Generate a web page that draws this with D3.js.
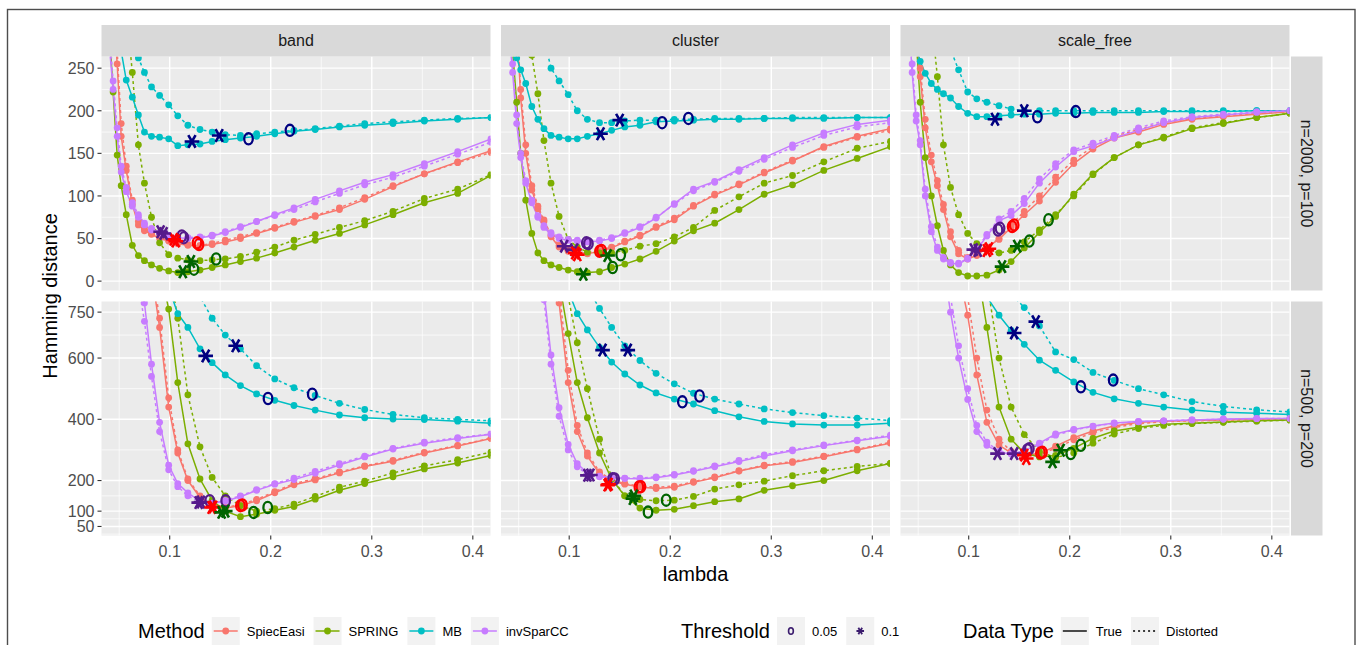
<!DOCTYPE html>
<html>
<head>
<meta charset="utf-8">
<script src="https://cdn.jsdelivr.net/npm/d3@7"></script>
<style>
body { margin: 0; background: #fff; }
svg { display: block; font-family: "Liberation Sans", Arial, sans-serif; }
</style>
</head>
<body>
<svg id="chart" width="1360" height="645"></svg>
<script>

// lambda path (shared by every curve)
var lambda = [0.040, 0.044, 0.048, 0.052, 0.057, 0.063, 0.069, 0.075, 0.082, 0.090, 0.099, 0.108, 0.118,
	0.130, 0.142, 0.155, 0.170, 0.186, 0.204, 0.223, 0.244, 0.268, 0.293, 0.321, 0.352, 0.385, 0.418];

var methods = ["SpiecEasi", "SPRING", "MB", "invSparCC"];
var structures = ["band", "cluster", "scale_free"];
var settings = ["n=2000, p=100", "n=500, p=200"];
var thresholds = ["0.05", "0.1"];
var dataTypes = ["True", "Distorted"];
var xBreaks = [0.1, 0.2, 0.3, 0.4];
var yBreaksTop = [0, 50, 100, 150, 200, 250];
var yBreaksBottom = [50, 100, 200, 400, 600, 750];

// Hamming distance, rows = SpiecEasi, SPRING, MB, invSparCC
var band2000True = [
	[420, 330, 255, 170, 130, 90, 66, 59, 55, 50, 47, 44, 42, 41, 43, 46, 50, 56, 62, 69, 76, 84, 96, 111, 126, 140, 153],
	[300, 222, 148, 112, 78, 42, 30, 24, 19, 15, 12, 10, 11, 13, 16, 19, 23, 27, 33, 40, 48, 56, 66, 78, 92, 103, 124],
	[380, 340, 300, 270, 236, 216, 195, 175, 170, 169, 167, 159, 160, 161, 164, 166, 168, 170, 173, 176, 178, 181, 183, 185, 188, 190, 192],
	[280, 225, 170, 128, 105, 88, 75, 66, 60, 56, 53, 51, 50, 51, 53, 57, 63, 70, 78, 86, 96, 106, 116, 125, 138, 152, 167]
];
var band2000Dist = [
	[440, 350, 270, 185, 135, 95, 70, 61, 56, 52, 48, 45, 43, 42, 44, 48, 52, 57, 63, 70, 77, 86, 98, 112, 126, 139, 151],
	[600, 520, 450, 380, 320, 245, 160, 115, 75, 45, 31, 27, 25, 24, 25, 26, 29, 34, 40, 48, 55, 63, 71, 82, 97, 108, 125],
	[500, 460, 420, 380, 340, 300, 262, 245, 228, 218, 207, 194, 183, 178, 175, 172, 171, 173, 175, 177, 179, 182, 185, 187, 189, 191, 192],
	[300, 235, 180, 135, 110, 92, 78, 68, 62, 57, 54, 52, 51, 52, 54, 58, 64, 70, 77, 84, 93, 103, 113, 122, 135, 149, 163]
];
var cluster2000True = [
	[420, 360, 300, 215, 150, 107, 85, 70, 52, 40, 35, 32, 32, 35, 39, 46, 53, 63, 72, 88, 101, 113, 127, 141, 158, 170, 179],
	[330, 270, 210, 150, 95, 56, 33, 24, 19, 16, 13, 11, 10, 11, 16, 20, 26, 35, 47, 59, 68, 84, 102, 113, 130, 144, 158],
	[330, 290, 262, 248, 232, 205, 190, 179, 171, 169, 167, 167, 170, 173, 177, 181, 183, 187, 188, 189, 190, 190, 191, 191, 191, 192, 192],
	[300, 245, 185, 145, 115, 92, 75, 63, 55, 50, 48, 47, 46, 47, 50, 56, 63, 74, 91, 108, 117, 131, 145, 160, 174, 184, 189]
];
var cluster2000Dist = [
	[440, 380, 310, 225, 160, 112, 88, 72, 54, 42, 36, 33, 33, 36, 40, 47, 54, 64, 74, 89, 102, 114, 128, 142, 157, 169, 177],
	[600, 520, 450, 390, 330, 265, 220, 165, 115, 76, 49, 40, 34, 33, 33, 36, 41, 44, 52, 63, 83, 99, 115, 124, 140, 156, 164],
	[560, 520, 480, 440, 400, 360, 320, 285, 250, 235, 219, 200, 190, 186, 186, 188, 189, 189, 190, 190, 191, 191, 191, 192, 192, 192, 192],
	[310, 255, 195, 150, 118, 95, 77, 65, 57, 52, 49, 48, 47, 48, 51, 57, 64, 75, 90, 106, 116, 129, 143, 157, 171, 181, 186]
];
var sf2000True = [
	[420, 350, 290, 240, 180, 140, 112, 84, 52, 32, 26, 30, 40, 49, 63, 78, 94, 116, 138, 155, 168, 175, 184, 190, 193, 196, 199],
	[400, 330, 285, 210, 145, 100, 65, 36, 19, 10, 6, 6, 7, 13, 23, 39, 57, 76, 102, 126, 145, 160, 168, 179, 185, 192, 197],
	[330, 300, 275, 258, 244, 232, 225, 220, 215, 205, 197, 193, 193, 194, 195, 196, 196, 197, 197, 198, 198, 198, 199, 199, 199, 200, 200],
	[320, 245, 188, 160, 100, 58, 36, 26, 21, 20, 26, 37, 53, 71, 77, 91, 115, 134, 152, 159, 168, 177, 186, 192, 195, 198, 200]
];
var sf2000Dist = [
	[430, 360, 300, 250, 190, 148, 118, 90, 58, 36, 28, 31, 40, 50, 66, 82, 100, 122, 142, 158, 170, 178, 186, 191, 194, 197, 199],
	[700, 600, 520, 450, 380, 310, 240, 160, 110, 78, 56, 44, 37, 33, 36, 46, 60, 78, 100, 125, 145, 160, 169, 180, 186, 192, 197],
	[480, 440, 410, 380, 350, 330, 310, 290, 272, 248, 222, 214, 210, 206, 202, 200, 200, 200, 200, 200, 200, 200, 200, 200, 200, 200, 200],
	[330, 255, 195, 165, 108, 64, 40, 28, 22, 21, 27, 38, 55, 73, 82, 97, 120, 138, 154, 162, 171, 180, 188, 193, 196, 199, 200]
];
var band500True = [
	[1300, 1250, 1200, 1150, 1100, 1050, 1000, 950, 880, 700, 440, 290, 200, 145, 115, 110, 118, 134, 160, 186, 202, 225, 246, 263, 290, 313, 337],
	[1400, 1350, 1300, 1250, 1200, 1150, 1100, 1050, 1000, 900, 760, 520, 320, 205, 135, 100, 82, 90, 103, 115, 139, 168, 190, 212, 238, 257, 282],
	[1500, 1450, 1400, 1350, 1300, 1250, 1200, 1150, 1050, 950, 830, 745, 700, 630, 585, 545, 510, 483, 462, 445, 430, 414, 405, 401, 399, 394, 387],
	[1200, 1150, 1100, 1050, 1000, 940, 860, 780, 580, 390, 250, 190, 160, 133, 126, 133, 147, 168, 188, 203, 224, 251, 277, 303, 322, 337, 351]
];
var band500Dist = [
	[1320, 1270, 1220, 1170, 1120, 1070, 1020, 970, 900, 730, 470, 300, 205, 150, 118, 112, 121, 138, 164, 190, 206, 228, 248, 266, 292, 315, 338],
	[1500, 1450, 1400, 1350, 1300, 1250, 1200, 1150, 1100, 1000, 900, 730, 480, 310, 210, 150, 118, 100, 108, 123, 148, 178, 198, 225, 248, 268, 293],
	[1800, 1750, 1700, 1650, 1600, 1500, 1400, 1300, 1200, 1100, 1000, 920, 860, 800, 730, 675, 630, 575, 532, 503, 478, 452, 432, 416, 405, 400, 395],
	[1180, 1130, 1080, 1030, 980, 920, 840, 720, 540, 360, 235, 180, 150, 130, 125, 135, 150, 170, 190, 208, 230, 255, 280, 305, 325, 340, 352]
];
var cluster500True = [
	[1400, 1350, 1300, 1250, 1200, 1150, 1100, 1050, 950, 780, 520, 360, 280, 222, 198, 188, 179, 174, 178, 194, 209, 231, 248, 259, 278, 300, 322],
	[1500, 1450, 1400, 1350, 1300, 1250, 1200, 1100, 1000, 850, 680, 520, 405, 290, 205, 150, 110, 103, 106, 118, 131, 140, 168, 183, 200, 232, 256],
	[1500, 1400, 1300, 1250, 1200, 1150, 1100, 1050, 1000, 920, 820, 745, 692, 635, 587, 548, 512, 486, 466, 450, 428, 408, 393, 385, 381, 381, 387],
	[1400, 1350, 1300, 1250, 1150, 1050, 950, 820, 610, 438, 318, 255, 225, 214, 211, 207, 206, 209, 218, 230, 245, 262, 280, 297, 314, 330, 345]
];
var cluster500Dist = [
	[1420, 1370, 1320, 1270, 1220, 1170, 1120, 1070, 980, 820, 560, 380, 290, 228, 202, 190, 182, 178, 182, 196, 212, 232, 250, 262, 280, 302, 325],
	[1600, 1550, 1500, 1450, 1400, 1350, 1300, 1200, 1100, 950, 800, 650, 500, 335, 210, 150, 138, 134, 136, 148, 172, 186, 198, 216, 232, 246, 256],
	[1700, 1650, 1600, 1550, 1500, 1450, 1400, 1350, 1250, 1150, 1000, 900, 830, 762, 700, 640, 592, 550, 516, 485, 466, 450, 434, 422, 412, 404, 396],
	[1380, 1330, 1280, 1230, 1130, 1030, 930, 790, 580, 410, 300, 245, 220, 212, 210, 208, 208, 212, 220, 232, 248, 266, 284, 300, 316, 332, 348]
];
var sf500True = [
	[1500, 1450, 1400, 1350, 1300, 1250, 1200, 1100, 1000, 880, 740, 545, 390, 316, 290, 283, 288, 312, 340, 362, 378, 390, 394, 396, 398, 400, 402],
	[1700, 1650, 1600, 1550, 1500, 1450, 1400, 1300, 1200, 1100, 1000, 900, 700, 440, 335, 290, 277, 282, 305, 338, 362, 374, 384, 387, 391, 395, 398],
	[1600, 1550, 1500, 1450, 1400, 1350, 1300, 1250, 1150, 1050, 950, 860, 800, 740, 690, 645, 593, 560, 522, 488, 467, 452, 440, 430, 423, 420, 416],
	[1400, 1350, 1300, 1250, 1200, 1100, 1000, 900, 750, 600, 465, 360, 315, 292, 287, 297, 322, 352, 367, 378, 388, 393, 395, 398, 401, 403, 403]
];
var sf500Dist = [
	[1520, 1470, 1420, 1370, 1320, 1270, 1220, 1120, 1020, 920, 800, 600, 430, 335, 295, 284, 286, 305, 333, 356, 373, 386, 392, 395, 397, 399, 401],
	[1800, 1750, 1700, 1650, 1600, 1550, 1500, 1400, 1300, 1200, 1100, 1000, 850, 600, 440, 350, 295, 275, 290, 322, 352, 370, 380, 386, 390, 394, 397],
	[1800, 1750, 1700, 1650, 1600, 1550, 1500, 1400, 1300, 1200, 1100, 1000, 920, 860, 810, 765, 705, 620, 595, 553, 527, 500, 480, 458, 442, 431, 424],
	[1450, 1400, 1350, 1300, 1250, 1150, 1050, 950, 800, 640, 500, 380, 325, 295, 288, 295, 318, 348, 365, 377, 387, 392, 395, 398, 400, 402, 403]
];

// selected lambdas: [method, threshold (0 = 0.05, 1 = 0.1), lambda, hamming]
var band2000Marks = [[2,1,0.122,164],[2,1,0.149,171],[2,0,0.178,167],[2,0,0.219,177],
	[0,1,0.104,49],[0,1,0.106,47],[0,0,0.127,45],[0,0,0.129,43],
	[1,1,0.113,11],[1,1,0.121,23],[1,0,0.124,14],[1,0,0.146,26],
	[3,1,0.091,58],[3,1,0.094,56],[3,0,0.112,53],[3,0,0.114,51]];
var cluster2000Marks = [[2,1,0.131,173],[2,1,0.150,189],[2,0,0.192,186],[2,0,0.218,191],
	[3,1,0.095,41],[3,1,0.105,37],[3,0,0.117,45],[3,0,0.119,44],
	[0,1,0.106,33],[0,1,0.108,31],[0,0,0.130,35],[0,0,0.132,36],
	[1,1,0.114,8],[1,1,0.138,30],[1,0,0.151,31],[1,0,0.143,16]];
var sf2000Marks = [[2,1,0.126,190],[2,1,0.155,200],[2,0,0.168,193],[2,0,0.206,199],
	[3,1,0.105,37],[3,1,0.109,36],[3,0,0.129,60],[3,0,0.131,62],
	[0,1,0.120,38],[0,1,0.118,36],[0,0,0.143,64],[0,0,0.145,66],
	[1,1,0.133,17],[1,1,0.148,41],[1,0,0.160,47],[1,0,0.179,72]];
var band500Marks = [[2,1,0.1356,607],[2,1,0.1653,640],[2,0,0.1973,468],[2,0,0.2411,482],
	[3,1,0.1287,128],[3,1,0.131,130],[3,0,0.1396,134],[3,0,0.1554,134],
	[0,1,0.1415,112],[0,1,0.143,114],[0,0,0.170,118],[0,0,0.172,120],
	[1,1,0.1514,96],[1,1,0.155,100],[1,0,0.183,96],[1,0,0.197,112]];
var cluster500Marks = [[2,1,0.133,626],[2,1,0.158,626],[2,0,0.212,457],[2,0,0.229,476],
	[3,1,0.118,217],[3,1,0.121,218],[3,0,0.143,206],[3,0,0.145,205],
	[0,1,0.138,185],[0,1,0.139,188],[0,0,0.169,179],[0,0,0.171,180],
	[1,1,0.163,141],[1,1,0.164,150],[1,0,0.178,97],[1,0,0.196,136]];
var sf500Marks = [[2,1,0.145,682],[2,1,0.1664,719],[2,0,0.211,506],[2,0,0.243,528],
	[3,1,0.1285,288],[3,1,0.145,288],[3,0,0.160,304],[3,0,0.158,300],
	[0,1,0.157,272],[0,1,0.155,283],[0,0,0.173,292],[0,0,0.171,290],
	[1,1,0.183,261],[1,1,0.191,299],[1,0,0.201,288],[1,0,0.211,315]];

// panel grid: rows = settings, cols = structures
var panelData = [
	[[band2000True, band2000Dist, band2000Marks], [cluster2000True, cluster2000Dist, cluster2000Marks], [sf2000True, sf2000Dist, sf2000Marks]],
	[[band500True, band500Dist, band500Marks], [cluster500True, cluster500Dist, cluster500Marks], [sf500True, sf500Dist, sf500Marks]]
];


/*
 *	LAYOUT
 */
var lineColors = ["#F8766D", "#7CAE00", "#00BFC4", "#C77CFF"];
var markColors = ["#FF0000", "#006400", "#000080", "#551A8B"];
var dashes = [null, "3,3"];

var colX = [101.5, 501, 900.5],
	rowY = [56.5, 301.5],
	panelW = 389, panelH = 234;
var xDomain = [0.0325, 0.4175];
var yDomains = [[-11, 263.7], [20.5, 784.7]];
var yBreaks = [yBreaksTop, yBreaksBottom];

var svg = d3.select("#chart");
svg.append("rect").attr("width", 1360).attr("height", 645).attr("fill", "#fff");
var defs = svg.append("defs");

// minor breaks the ggplot way: midpoints, with one extra break at each end
function minorBreaks(b, dom){
	var ext = [b[0] - (b[1] - b[0])].concat(b, [b[b.length-1] + (b[b.length-1] - b[b.length-2])]);
	var out = [];
	for (var i = 1; i < ext.length; i++){
		var m = (ext[i-1] + ext[i]) / 2;
		if (m > dom[0] && m < dom[1]) out.push(m);
	}
	return out;
}

var line = d3.line();

settings.forEach(function(setting, r){
	structures.forEach(function(struct, c){
		var x = d3.scaleLinear().domain(xDomain).range([colX[c], colX[c] + panelW]);
		var y = d3.scaleLinear().domain(yDomains[r]).range([rowY[r] + panelH, rowY[r]]);
		var g = svg.append("g");

		// background + grid
		g.append("rect")
			.attr("x", colX[c]).attr("y", rowY[r])
			.attr("width", panelW).attr("height", panelH)
			.attr("fill", "#EBEBEB");
		minorBreaks(xBreaks, xDomain).forEach(function(v){
			g.append("line").attr("x1", x(v)).attr("x2", x(v)).attr("y1", rowY[r]).attr("y2", rowY[r] + panelH)
				.attr("stroke", "#fff").attr("stroke-width", 0.7);
		});
		minorBreaks(yBreaks[r], yDomains[r]).forEach(function(v){
			g.append("line").attr("y1", y(v)).attr("y2", y(v)).attr("x1", colX[c]).attr("x2", colX[c] + panelW)
				.attr("stroke", "#fff").attr("stroke-width", 0.7);
		});
		xBreaks.forEach(function(v){
			g.append("line").attr("x1", x(v)).attr("x2", x(v)).attr("y1", rowY[r]).attr("y2", rowY[r] + panelH)
				.attr("stroke", "#fff").attr("stroke-width", 1.4);
		});
		yBreaks[r].forEach(function(v){
			g.append("line").attr("y1", y(v)).attr("y2", y(v)).attr("x1", colX[c]).attr("x2", colX[c] + panelW)
				.attr("stroke", "#fff").attr("stroke-width", 1.4);
		});

		// clip
		var cid = "clip" + r + c;
		defs.append("clipPath").attr("id", cid).append("rect")
			.attr("x", colX[c]).attr("y", rowY[r]).attr("width", panelW).attr("height", panelH);
		var pg = g.append("g").attr("clip-path", "url(#" + cid + ")");

		var pd = panelData[r][c];
		var series = [];
		methods.forEach(function(m, mi){
			[0, 1].forEach(function(dt){
				series.push({m: mi, dt: dt, vals: pd[dt][mi]});
			});
		});

		// lines
		pg.selectAll("path.curve")
			.data(series).enter()
			.append("path")
				.attr("class", "curve")
				.attr("d", function(d){ return line(lambda.map(function(l, i){ return [x(l), y(d.vals[i])]; })); })
				.attr("fill", "none")
				.attr("stroke", function(d){ return lineColors[d.m]; })
				.attr("stroke-width", 1.5)
				.attr("stroke-dasharray", function(d){ return dashes[d.dt]; });

		// points
		series.forEach(function(s){
			pg.selectAll(null)
				.data(s.vals).enter()
				.append("circle")
					.attr("cx", function(v, i){ return x(lambda[i]); })
					.attr("cy", function(v){ return y(v); })
					.attr("r", 3.4)
					.attr("fill", lineColors[s.m]);
		});

		// threshold marks
		var marks = pd[2];
		pg.selectAll("ellipse.mk")
			.data(marks.filter(function(d){ return d[1] == 0; })).enter()
			.append("ellipse")
				.attr("cx", function(d){ return x(d[2]); })
				.attr("cy", function(d){ return y(d[3]); })
				.attr("rx", 4.3).attr("ry", 5.6)
				.attr("fill", "none")
				.attr("stroke", function(d){ return markColors[d[0]]; })
				.attr("stroke-width", 2.3);
		pg.selectAll("path.star")
			.data(marks.filter(function(d){ return d[1] == 1; })).enter()
			.append("path")
				.attr("class", "star")
				.attr("d", d3.symbol().type(d3.symbolAsterisk).size(150))
				.attr("transform", function(d){ return "translate(" + x(d[2]) + "," + y(d[3]) + ") rotate(90)"; })
				.attr("stroke", function(d){ return markColors[d[0]]; })
				.attr("stroke-width", 2.6);

		// y axis on first column
		if (c == 0){
			yBreaks[r].forEach(function(v){
				svg.append("line").attr("x1", colX[0] - 4).attr("x2", colX[0]).attr("y1", y(v)).attr("y2", y(v))
					.attr("stroke", "#333").attr("stroke-width", 1.1);
				svg.append("text").attr("x", colX[0] - 7).attr("y", y(v)).attr("dy", "0.36em")
					.attr("text-anchor", "end").attr("font-size", 16).attr("fill", "#4D4D4D").text(v);
			});
		}
		// x axis on bottom row
		if (r == 1){
			xBreaks.forEach(function(v){
				svg.append("line").attr("x1", x(v)).attr("x2", x(v)).attr("y1", rowY[1] + panelH).attr("y2", rowY[1] + panelH + 4)
					.attr("stroke", "#333").attr("stroke-width", 1.1);
				svg.append("text").attr("x", x(v)).attr("y", rowY[1] + panelH + 21)
					.attr("text-anchor", "middle").attr("font-size", 16).attr("fill", "#4D4D4D").text(v);
			});
		}
		// top strip
		if (r == 0){
			svg.append("rect").attr("x", colX[c]).attr("y", 25).attr("width", panelW).attr("height", 31.5).attr("fill", "#D9D9D9");
			svg.append("text").attr("x", colX[c] + panelW / 2).attr("y", 40.7).attr("dy", "0.35em")
				.attr("text-anchor", "middle").attr("font-size", 16).attr("fill", "#1A1A1A").text(struct);
		}
		// right strip
		if (c == 2){
			var sx = colX[2] + panelW + 1.5, cy = rowY[r] + panelH / 2;
			svg.append("rect").attr("x", sx).attr("y", rowY[r]).attr("width", 31.5).attr("height", panelH).attr("fill", "#D9D9D9");
			svg.append("text").attr("transform", "translate(" + (sx + 15.75) + "," + cy + ") rotate(90)")
				.attr("dy", "0.35em").attr("text-anchor", "middle").attr("font-size", 16).attr("fill", "#1A1A1A").text(setting);
		}
	});
});

// axis titles
svg.append("text").attr("x", colX[0] + (colX[2] + panelW - colX[0]) / 2).attr("y", 581)
	.attr("text-anchor", "middle").attr("font-size", 20).attr("fill", "#000").text("lambda");
svg.append("text").attr("transform", "translate(57," + ((rowY[0] + rowY[1] + panelH) / 2) + ") rotate(-90)")
	.attr("text-anchor", "middle").attr("font-size", 20).attr("fill", "#000").text("Hamming distance");


/*
 *	LEGEND
 */
var legY = 631, keyS = 28;
function legendGroup(x0, title, labels, drawKey){
	var t = svg.append("text").attr("x", x0).attr("y", legY).attr("dy", "0.35em")
		.attr("font-size", 20).attr("fill", "#000").text(title);
	var cx = x0 + t.node().getComputedTextLength() + 7;
	labels.forEach(function(lab, i){
		var k = svg.append("g").attr("transform", "translate(" + cx + "," + (legY - keyS / 2) + ")");
		k.append("rect").attr("width", keyS).attr("height", keyS).attr("fill", "#F2F2F2");
		drawKey(k, i);
		var tx = svg.append("text").attr("x", cx + keyS + 7).attr("y", legY).attr("dy", "0.35em")
			.attr("font-size", 13).attr("fill", "#000").text(lab);
		cx += keyS + 7 + tx.node().getComputedTextLength() + 9;
	});
}
legendGroup(138, "Method", methods, function(k, i){
	k.append("line").attr("x1", 2).attr("x2", keyS - 2).attr("y1", keyS / 2).attr("y2", keyS / 2)
		.attr("stroke", lineColors[i]).attr("stroke-width", 1.5);
	k.append("circle").attr("cx", keyS / 2).attr("cy", keyS / 2).attr("r", 3.4).attr("fill", lineColors[i]);
});
legendGroup(681, "Threshold", thresholds, function(k, i){
	if (i == 0){
		k.append("ellipse").attr("cx", keyS / 2).attr("cy", keyS / 2).attr("rx", 2.4).attr("ry", 3.3)
			.attr("fill", "none").attr("stroke", "#3B1C6E").attr("stroke-width", 1.6);
	} else {
		k.append("path").attr("d", d3.symbol().type(d3.symbolAsterisk).size(40))
			.attr("transform", "translate(" + keyS / 2 + "," + keyS / 2 + ") rotate(90)")
			.attr("stroke", "#3B1C6E").attr("stroke-width", 1.8);
	}
});
legendGroup(963, "Data Type", dataTypes, function(k, i){
	k.append("line").attr("x1", 2).attr("x2", keyS - 2).attr("y1", keyS / 2).attr("y2", keyS / 2)
		.attr("stroke", "#000").attr("stroke-width", 1.4).attr("stroke-dasharray", i ? "2,3" : null);
});

// outer frame of the figure
svg.append("rect").attr("x", 7.5).attr("y", 9.5).attr("width", 1347.5).attr("height", 700)
	.attr("fill", "none").attr("stroke", "#4D4D4D").attr("stroke-width", 1.4);

</script>
</body>
</html>
